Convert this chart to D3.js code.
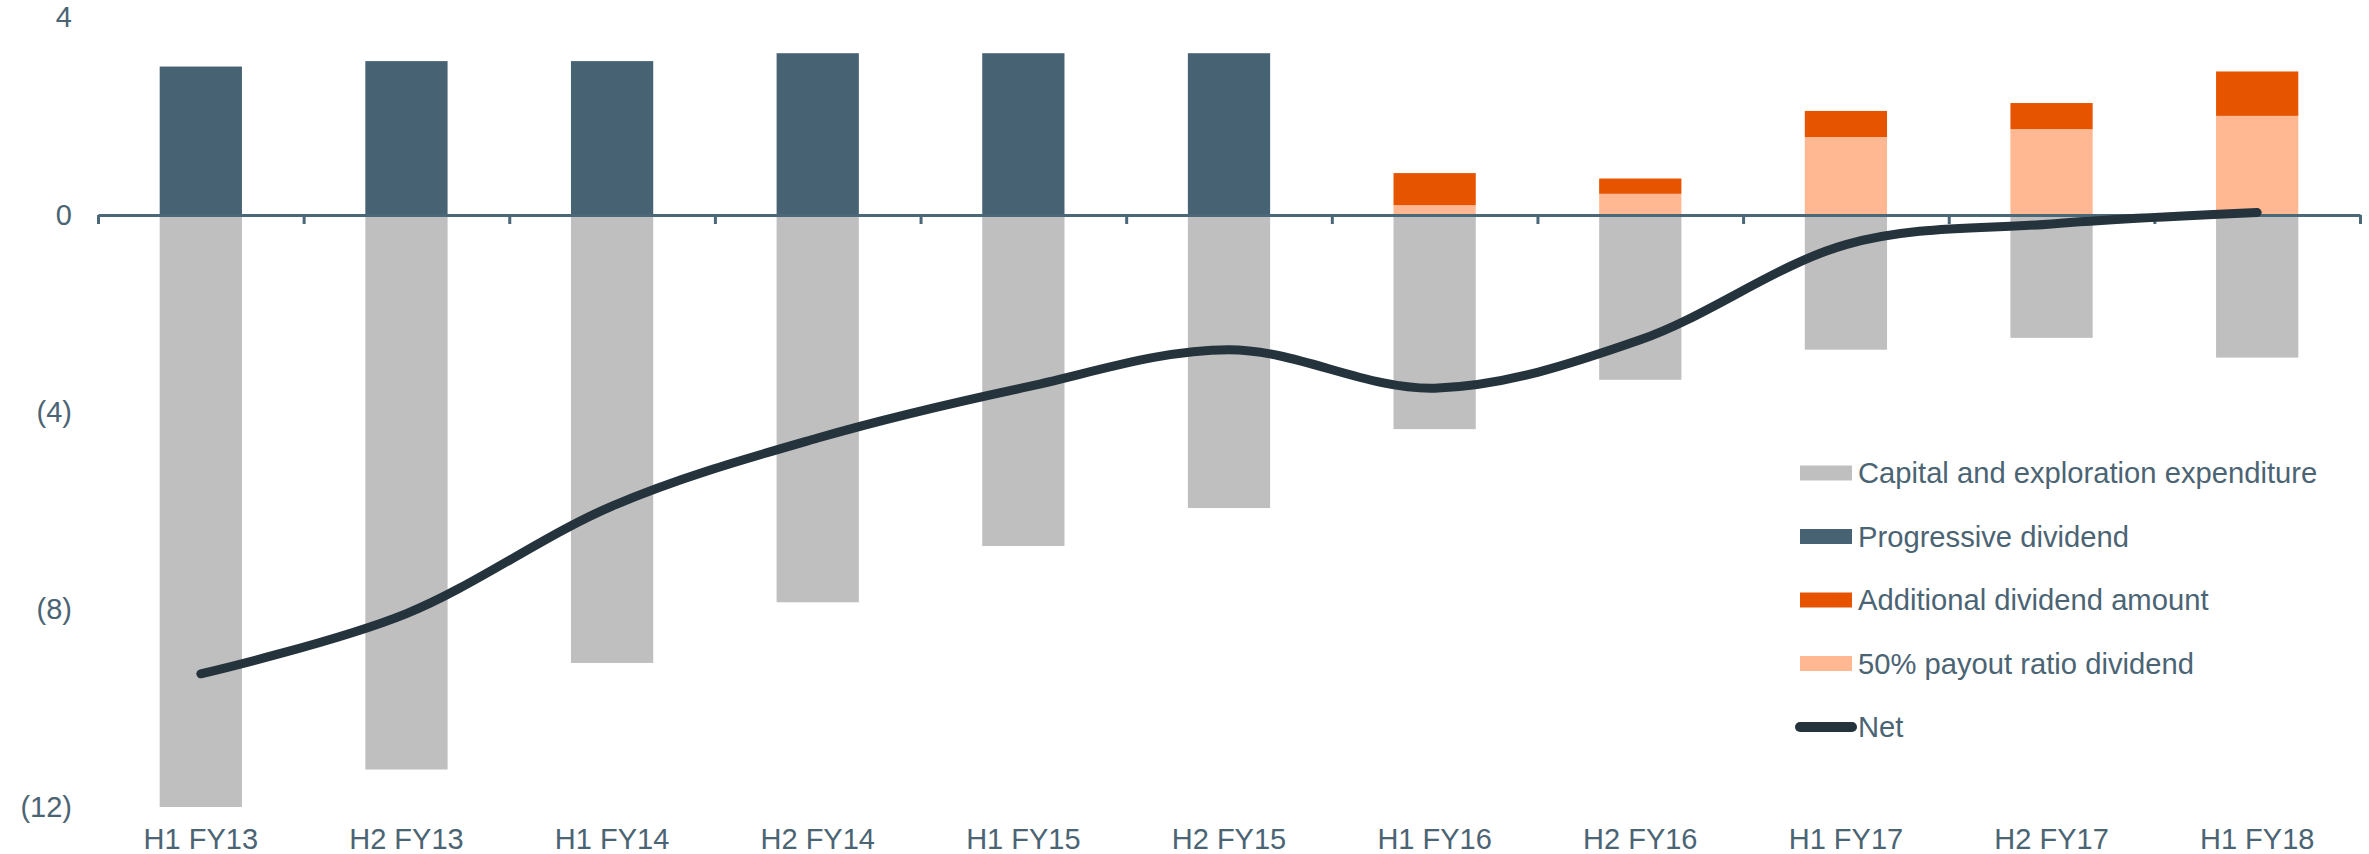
<!DOCTYPE html>
<html>
<head>
<meta charset="utf-8">
<script src="https://cdn.jsdelivr.net/npm/d3@7"></script>
<style>
  body { margin: 0; background: #fff; }
  svg { display: block; font-family: "Liberation Sans", Arial, sans-serif; }
</style>
</head>
<body>
<div id="chart"></div>
<script>
// data (US$ bn style values)
const categories = ["H1 FY13", "H2 FY13", "H1 FY14", "H2 FY14", "H1 FY15", "H2 FY15",
    "H1 FY16", "H2 FY16", "H1 FY17", "H2 FY17", "H1 FY18"]
const capex = [-12.0, -11.24, -9.08, -7.85, -6.71, -5.94, -4.34, -3.34, -2.73, -2.49, -2.89]
const progressive = [3.01, 3.12, 3.12, 3.28, 3.28, 3.28, 0, 0, 0, 0, 0]
const payout = [0, 0, 0, 0, 0, 0, 0.2, 0.43, 1.58, 1.74, 2.01]
const additional = [0, 0, 0, 0, 0, 0, 0.65, 0.31, 0.53, 0.53, 0.9]
const net = [-9.3, -8.08, -5.9, -4.52, -3.5, -2.73, -3.51, -2.53, -0.6, -0.18, 0.05]
const yTicks = [4, 0, -4, -8, -12]

const legendItems = [
    { label: "Capital and exploration expenditure", color: "#bfbfbf", type: "bar" },
    { label: "Progressive dividend", color: "#476373", type: "bar" },
    { label: "Additional dividend amount", color: "#e65400", type: "bar" },
    { label: "50% payout ratio dividend", color: "#ffb891", type: "bar" },
    { label: "Net", color: "#25333d", type: "line" },
]

const width = 2369, height = 854
const textColor = "#4b6474"
const axisColor = "#4b6878"

const svg = d3.select("#chart").append("svg")
    .attr("width", width)
    .attr("height", height)

const x = d3.scaleBand()
    .domain(categories)
    .range([98, 2360])
    .paddingInner(0.6)
    .paddingOuter(0.3)

const y = d3.scaleLinear()
    .domain([-12, 4])
    .range([807, 17.7])

// stacked positives: progressive, then 50% payout, then additional on top
const rows = categories.map((c, i) => ({
    cat: c,
    capex: capex[i],
    progressive: progressive[i],
    payout: payout[i],
    additional: additional[i],
}))
const stack = d3.stack().keys(["progressive", "payout", "additional"])(rows)
const stackColors = { progressive: "#476373", payout: "#ffb891", additional: "#e65400" }

// capex bars (negative)
svg.append("g").selectAll("rect")
    .data(rows)
    .enter().append("rect")
    .attr("x", d => x(d.cat))
    .attr("width", x.bandwidth())
    .attr("y", y(0))
    .attr("height", d => y(d.capex) - y(0))
    .attr("fill", "#bfbfbf")

svg.append("g").selectAll("g")
    .data(stack)
    .enter().append("g")
    .attr("fill", s => stackColors[s.key])
    .selectAll("rect")
    .data(s => s.filter(d => d[1] - d[0] > 0))
    .enter().append("rect")
    .attr("x", d => x(d.data.cat))
    .attr("width", x.bandwidth())
    .attr("y", d => y(d[1]))
    .attr("height", d => y(d[0]) - y(d[1]))

// zero axis with ticks between categories
const tickPos = d3.scaleLinear().domain([0, categories.length]).range(x.range())
const zeroAxis = svg.append("g")
    .attr("transform", "translate(0," + y(0) + ")")
    .call(d3.axisBottom(tickPos)
        .tickValues(d3.range(categories.length + 1))
        .tickFormat("")
        .tickSize(9)
        .tickSizeOuter(0))
zeroAxis.select(".domain").attr("stroke", axisColor).attr("stroke-width", 3)
zeroAxis.selectAll(".tick line").attr("stroke", axisColor).attr("stroke-width", 3)

// category labels
const xAxis = svg.append("g")
    .attr("transform", "translate(0,828)")
    .call(d3.axisBottom(x).tickSize(0).tickPadding(0))
xAxis.select(".domain").remove()
xAxis.selectAll("text")
    .attr("dy", "0.71em")
    .style("font-size", "29px")
    .style("font-family", "'Liberation Sans', Arial, sans-serif")
    .attr("fill", textColor)

// value labels on the left
const yAxis = svg.append("g")
    .attr("transform", "translate(72,0)")
    .call(d3.axisLeft(y)
        .tickValues(yTicks)
        .tickSize(0)
        .tickPadding(0)
        .tickFormat(v => v < 0 ? "(" + Math.abs(v) + ")" : v))
yAxis.select(".domain").remove()
yAxis.selectAll("text")
    .style("font-size", "29px")
    .style("font-family", "'Liberation Sans', Arial, sans-serif")
    .attr("fill", textColor)

// net line
const line = d3.line()
    .x((d, i) => x(categories[i]) + x.bandwidth() / 2)
    .y(d => y(d))
    .curve(d3.curveCatmullRom.alpha(0))

svg.append("path")
    .datum(net)
    .attr("d", line)
    .attr("fill", "none")
    .attr("stroke", "#25333d")
    .attr("stroke-width", 9)
    .attr("stroke-linecap", "round")
    .attr("stroke-linejoin", "round")

// legend
const legend = svg.append("g")
    .selectAll("g")
    .data(legendItems)
    .enter().append("g")
    .attr("transform", (d, i) => "translate(0," + (473 + i * 63.5) + ")")

legend.filter(d => d.type === "bar").append("rect")
    .attr("x", 1800)
    .attr("y", -7.5)
    .attr("width", 52)
    .attr("height", 15)
    .attr("fill", d => d.color)

legend.filter(d => d.type === "line").append("line")
    .attr("x1", 1800)
    .attr("x2", 1852)
    .attr("stroke", d => d.color)
    .attr("stroke-width", 10)
    .attr("stroke-linecap", "round")

legend.append("text")
    .attr("x", 1858)
    .attr("dy", "0.35em")
    .style("font-size", "29.2px")
    .attr("fill", textColor)
    .text(d => d.label)
</script>
</body>
</html>
